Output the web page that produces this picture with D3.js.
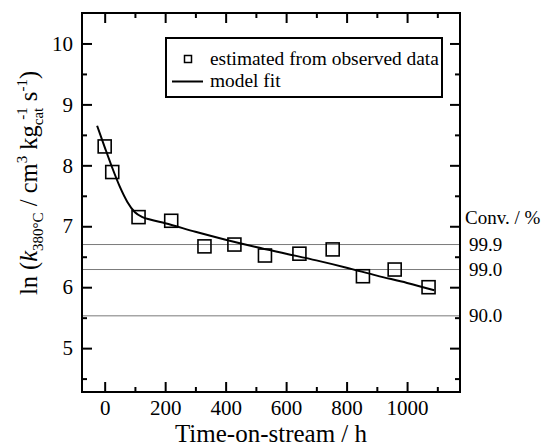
<!DOCTYPE html>
<html>
<head>
<meta charset="utf-8">
<script src="https://cdn.jsdelivr.net/npm/d3@7"></script>
<style>
  body { margin: 0; background: #fff; }
  svg { display: block; font-family: "Liberation Serif", "Times New Roman", serif; }
</style>
</head>
<body>
<div id="chart"></div>
<script>
// observed points (time-on-stream in h, ln k)
var timeH = [0, 25, 112, 220, 330, 429, 530, 644, 754, 854, 959, 1071];
var lnK   = [8.31, 7.89, 7.15, 7.09, 6.67, 6.70, 6.52, 6.55, 6.62, 6.18, 6.29, 6.00];

// model fit curve
var fitTime = [-25, 0, 25, 50, 75, 100, 125, 150, 200, 300, 400, 500, 600, 700, 800, 900, 1000, 1090];
var fitLnK  = [8.65, 8.30, 7.96, 7.65, 7.40, 7.23, 7.15, 7.11, 7.05, 6.91, 6.78, 6.66, 6.55, 6.44, 6.32, 6.19, 6.07, 5.95];

// conversion reference lines
var convLabels = ["99.9", "99.0", "90.0"];
var convLnK    = [6.70, 6.29, 5.53];

var xTicks = [0, 200, 400, 600, 800, 1000];
var xMinor = [100, 300, 500, 700, 900, 1100];
var yTicks = [5, 6, 7, 8, 9, 10];
var yMinor = [4.5, 5.5, 6.5, 7.5, 8.5, 9.5];

var width = 543, height = 447;
var margin = {left: 82, right: 83, top: 13, bottom: 55};

var svg = d3.select("#chart").append("svg")
    .attr("width", width)
    .attr("height", height);

var x = d3.scaleLinear().domain([-75, 1175]).range([margin.left, width - margin.right]);
var y = d3.scaleLinear().domain([4.28, 10.5]).range([height - margin.bottom, margin.top]);

var x0 = x.range()[0], x1 = x.range()[1];
var y0 = y.range()[0], y1 = y.range()[1];

// gray conversion lines
svg.append("g").selectAll("line")
    .data(convLnK)
    .enter().append("line")
    .attr("x1", x0).attr("x2", x1)
    .attr("y1", function(d){ return y(d); })
    .attr("y2", function(d){ return y(d); })
    .style("stroke", "#7a7a7a")
    .style("stroke-width", 1);

// axes, ticks pointing inward on all four sides
function styleAxis(g){
    g.select(".domain").remove();
    g.selectAll(".tick line").style("stroke", "#000").style("stroke-width", 2);
    g.selectAll(".tick text").style("font-size", "21px").style("fill", "#000")
        .style("font-family", "Liberation Serif");
}

svg.append("g").attr("transform", "translate(0," + y0 + ")")
    .call(d3.axisBottom(x).tickValues(xTicks).tickSize(-10).tickPadding(8).tickFormat(d3.format("d")))
    .call(styleAxis);
svg.append("g").attr("transform", "translate(0," + y0 + ")")
    .call(d3.axisBottom(x).tickValues(xMinor).tickSize(-5).tickFormat(""))
    .call(styleAxis);
svg.append("g").attr("transform", "translate(0," + y1 + ")")
    .call(d3.axisTop(x).tickValues(xTicks).tickSize(-10).tickFormat(""))
    .call(styleAxis);
svg.append("g").attr("transform", "translate(0," + y1 + ")")
    .call(d3.axisTop(x).tickValues(xMinor).tickSize(-5).tickFormat(""))
    .call(styleAxis);

svg.append("g").attr("transform", "translate(" + x0 + ",0)")
    .call(d3.axisLeft(y).tickValues(yTicks).tickSize(-10).tickPadding(9).tickFormat(d3.format("d")))
    .call(styleAxis);
svg.append("g").attr("transform", "translate(" + x0 + ",0)")
    .call(d3.axisLeft(y).tickValues(yMinor).tickSize(-5).tickFormat(""))
    .call(styleAxis);
svg.append("g").attr("transform", "translate(" + x1 + ",0)")
    .call(d3.axisRight(y).tickValues(yTicks).tickSize(-10).tickFormat(""))
    .call(styleAxis);
svg.append("g").attr("transform", "translate(" + x1 + ",0)")
    .call(d3.axisRight(y).tickValues(yMinor).tickSize(-5).tickFormat(""))
    .call(styleAxis);

// frame
svg.append("rect")
    .attr("x", x0).attr("y", y1)
    .attr("width", x1 - x0).attr("height", y0 - y1)
    .style("fill", "none").style("stroke", "#000").style("stroke-width", 2);

// model fit line
var fitData = fitTime.map(function(t, i){ return [t, fitLnK[i]]; });
var line = d3.line()
    .x(function(d){ return x(d[0]); })
    .y(function(d){ return y(d[1]); })
    .curve(d3.curveMonotoneX);

svg.append("path")
    .datum(fitData)
    .attr("d", line)
    .style("fill", "none")
    .style("stroke", "#000")
    .style("stroke-width", 2);

// observed squares
var sq = 13;
svg.append("g").selectAll("rect")
    .data(timeH)
    .enter().append("rect")
    .attr("x", function(d){ return x(d) - sq / 2; })
    .attr("y", function(d, i){ return y(lnK[i]) - sq / 2; })
    .attr("width", sq).attr("height", sq)
    .style("fill", "none")
    .style("stroke", "#000")
    .style("stroke-width", 1.6);

// conversion labels on the right
svg.append("text")
    .attr("x", 465).attr("y", 224)
    .style("font-size", "19px")
    .text("Conv. / %");
svg.append("g").selectAll("text")
    .data(convLabels)
    .enter().append("text")
    .attr("x", 469)
    .attr("y", function(d, i){ return y(convLnK[i]) + 6; })
    .style("font-size", "19px")
    .text(function(d){ return d; });

// legend
var legend = svg.append("g");
legend.append("rect")
    .attr("x", 166).attr("y", 38)
    .attr("width", 276).attr("height", 59)
    .style("fill", "#fff").style("stroke", "#000").style("stroke-width", 2);
legend.append("rect")
    .attr("x", 184.5).attr("y", 55.5)
    .attr("width", 7).attr("height", 7)
    .style("fill", "none").style("stroke", "#000").style("stroke-width", 1.5);
legend.append("line")
    .attr("x1", 172).attr("x2", 203)
    .attr("y1", 81.5).attr("y2", 81.5)
    .style("stroke", "#000").style("stroke-width", 2);
legend.append("text")
    .attr("x", 210).attr("y", 65)
    .style("font-size", "19.4px")
    .text("estimated from observed data");
legend.append("text")
    .attr("x", 210).attr("y", 87)
    .style("font-size", "19.4px")
    .text("model fit");

// axis titles
svg.append("text")
    .attr("x", (x0 + x1) / 2).attr("y", 442)
    .attr("text-anchor", "middle")
    .style("font-size", "25px")
    .text("Time-on-stream / h");

var yt = svg.append("text")
    .attr("transform", "translate(37,183) rotate(-90)")
    .attr("text-anchor", "middle")
    .style("font-size", "24.5px");
yt.append("tspan").text("ln (");
yt.append("tspan").style("font-style", "italic").text("k");
yt.append("tspan").attr("dy", 6).style("font-size", "15px").text("380°C");
yt.append("tspan").attr("dy", -6).text(" / cm");
yt.append("tspan").attr("dy", -10).style("font-size", "15px").text("3");
yt.append("tspan").attr("dy", 10).text(" kg");
yt.append("tspan").attr("dy", 6).style("font-size", "15px").text("cat");
yt.append("tspan").attr("dy", -16).attr("dx", -12).style("font-size", "15px").text("-1");
yt.append("tspan").attr("dy", 10).text(" s");
yt.append("tspan").attr("dy", -10).style("font-size", "15px").text("-1");
yt.append("tspan").attr("dy", 10).text(")");
</script>
</body>
</html>
